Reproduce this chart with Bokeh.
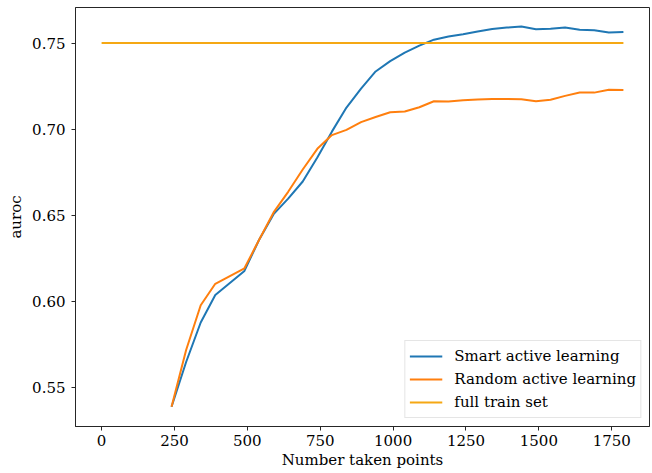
from bokeh.plotting import figure
from bokeh.models import FixedTicker, Legend, LegendItem
from bokeh.embed import file_html
from bokeh.resources import INLINE

# ---- data ----
taken_points = [240, 290, 340, 390, 440, 490, 540, 590, 640, 690, 740, 790,
                840, 890, 940, 990, 1040, 1090, 1140, 1190, 1240, 1290, 1340,
                1390, 1440, 1490, 1540, 1590, 1640, 1690, 1740, 1790]
smart_auroc = [0.539, 0.565, 0.588, 0.604, 0.611, 0.618, 0.636, 0.651, 0.660,
               0.670, 0.684, 0.699, 0.713, 0.724, 0.734, 0.740, 0.745, 0.749,
               0.7525, 0.7543, 0.7557, 0.7573, 0.7587, 0.7595, 0.7601, 0.7586,
               0.7589, 0.7596, 0.7582, 0.7580, 0.7566, 0.7570]
random_auroc = [0.539, 0.572, 0.598, 0.6105, 0.615, 0.6195, 0.636, 0.652,
                0.664, 0.677, 0.689, 0.697, 0.700, 0.7045, 0.7075, 0.7103,
                0.7107, 0.7132, 0.7167, 0.7165, 0.7172, 0.7177, 0.7180, 0.7180,
                0.7178, 0.7167, 0.7175, 0.7198, 0.7218, 0.7217, 0.7234, 0.7232]
full_x = [0, 1790]
full_auroc = [0.7505, 0.7505]

x_ticks = [0, 250, 500, 750, 1000, 1250, 1500, 1750]
y_ticks = [0.55, 0.60, 0.65, 0.70, 0.75]
y_tick_labels = ["0.55", "0.60", "0.65", "0.70", "0.75"]

labels = ["Smart active learning", "Random active learning", "full train set"]
colors = ["#1f77b4", "#ff7f0e", "#f5a814"]

FONT = "DejaVu Serif"
FS = "15px"

p = figure(width=652, height=473, x_range=(-89.5, 1879.5), y_range=(0.5275, 0.7712),
           output_backend="svg", toolbar_location=None,
           min_border_left=75, min_border_right=3, min_border_top=7, min_border_bottom=47)

r1 = p.line(taken_points, smart_auroc, line_color=colors[0], line_width=2)
r2 = p.line(taken_points, random_auroc, line_color=colors[1], line_width=2)
r3 = p.line(full_x, full_auroc, line_color=colors[2], line_width=2)

p.xgrid.visible = False
p.ygrid.visible = False
p.outline_line_color = "#262626"
p.outline_line_width = 1
p.background_fill_color = "white"
p.border_fill_color = "white"

p.xaxis.ticker = FixedTicker(ticks=x_ticks)
p.yaxis.ticker = FixedTicker(ticks=y_ticks)
p.yaxis.major_label_overrides = {t: l for t, l in zip(y_ticks, y_tick_labels)}

for ax in (p.xaxis[0], p.yaxis[0]):
    ax.axis_line_color = "#262626"
    ax.major_tick_line_color = "#262626"
    ax.major_tick_out = 4
    ax.major_tick_in = 0
    ax.minor_tick_line_color = None
    ax.major_label_text_font = FONT
    ax.major_label_text_font_size = FS
    ax.major_label_text_color = "black"
    ax.axis_label_text_font = FONT
    ax.axis_label_text_font_size = FS
    ax.axis_label_text_font_style = "normal"
    ax.axis_label_text_color = "black"

p.xaxis.axis_label = "Number taken points"
p.yaxis.axis_label = "auroc"
p.xaxis.major_label_standoff = 4
p.xaxis.axis_label_standoff = 2
p.yaxis.major_label_standoff = 6
p.yaxis.axis_label_standoff = 4

legend = Legend(items=[LegendItem(label=labels[0], renderers=[r1]),
                       LegendItem(label=labels[1], renderers=[r2]),
                       LegendItem(label=labels[2], renderers=[r3])],
                location="bottom_right")
legend.label_text_font = FONT
legend.label_text_font_size = FS
legend.label_text_color = "black"
legend.glyph_width = 33
legend.glyph_height = 22
legend.label_height = 22
legend.label_standoff = 12
legend.spacing = 1
legend.padding = 4
legend.margin = 8
legend.border_line_color = "#cccccc"
legend.border_line_width = 1
legend.background_fill_alpha = 0.8
p.add_layout(legend)

open("out.html", "w").write(file_html(p, INLINE))
